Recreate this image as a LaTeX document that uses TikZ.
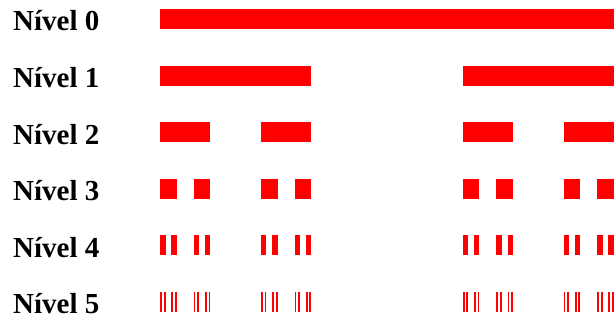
\documentclass[tikz,border=0pt]{standalone}
\usepackage{fontspec}
\setmainfont{Liberation Serif}
\usetikzlibrary{positioning}

\begin{document}
\begin{tikzpicture}[
  x=1pt, y=-1pt,
  nivel/.style={anchor=base west, inner sep=0pt, font=\fontsize{29}{31}\selectfont\bfseries},
  barra/.style={fill=red, draw=none}
]
\useasboundingbox (0,0) rectangle (616,328);

% one row per level: label, then the 2^n pieces of the Cantor set
\foreach \n in {0,...,5}{
  \pgfmathsetmacro{\ytop}{9+56.6*\n}
  \node[nivel] (lvl\n) at (13,\ytop+22) {Nível \n};
  \pgfmathtruncatemacro{\kmax}{2^\n-1}
  \pgfmathsetmacro{\w}{454/3^\n}
  \foreach \k in {0,...,\kmax}{
    % left end from the binary digits of k
    \pgfmathsetmacro{\xl}{160+908*(mod(floor(\k/2^(\n-1)),2)/3
      +mod(floor(\k/2^(\n-2)),2)/9+mod(floor(\k/2^(\n-3)),2)/27
      +mod(floor(\k/2^(\n-4)),2)/81+mod(floor(\k/2^(\n-5)),2)/243)}
    \fill[barra] (\xl,\ytop) rectangle ++(\w,20);
  }
}
\end{tikzpicture}
\end{document}
